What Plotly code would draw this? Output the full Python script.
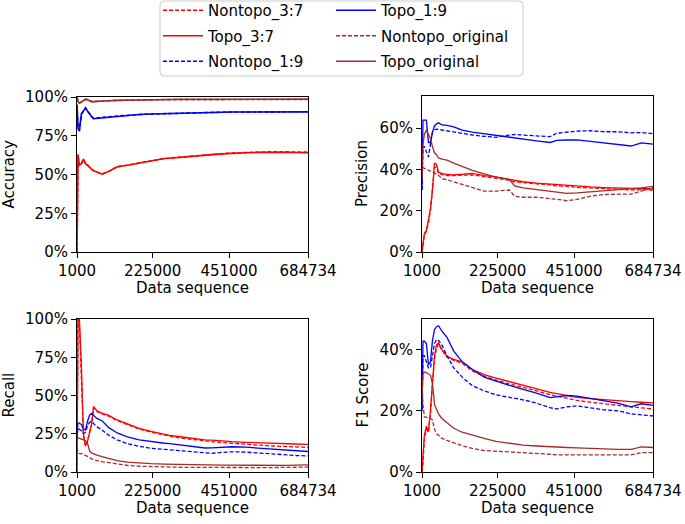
import plotly.graph_objects as go

# ---------------- data ----------------
X = [1000, 4000, 8000, 14000, 20000, 26000, 32000, 38000, 44000, 50000, 60000, 75000,
     95000, 120000, 150000, 185000, 220000, 260000, 275000, 300000, 340000, 380000,
     400000, 430000, 460000, 500000, 540000, 580000, 620000, 650000, 684734]

x_ticks = [1000, 225000, 451000, 684734]
x_tick_labels = ["1000", "225000", "451000", "684734"]

series_names = ["Nontopo_3:7", "Topo_3:7", "Nontopo_1:9", "Topo_1:9", "Nontopo_original", "Topo_original"]

# Accuracy (%)
acc_nontopo37 = [0, 62, 56, 57, 60, 57, 56, 54.5, 53.5, 52.5, 51.5, 50.3, 52, 55, 56, 57.5, 59, 60.3, 60.6, 61.1,
                 62, 62.6, 62.9, 63.4, 63.9, 64.2, 64.5, 64.7, 64.6, 64.5, 64.4]
acc_topo37 = [0, 63, 56, 57, 60, 57, 56, 54.5, 53.5, 52.5, 51.5, 50.2, 52, 55, 56, 57.5, 59, 60.3, 60.5, 61,
              62, 62.5, 62.8, 63.3, 63.8, 64, 64.3, 64.5, 64.3, 64.2, 64]
acc_nontopo19 = [95, 80, 78.5, 89, 91, 93, 91, 89, 87.5, 86.2, 86.3, 86.8, 87.3, 87.8, 88.2, 88.7, 89, 89.3, 89.5, 89.6,
                 89.8, 90, 90.1, 90.2, 90.3, 90.4, 90.5, 90.5, 90.5, 90.5, 90.5]
acc_topo19 = [95, 80, 78, 89, 91, 93, 91, 89, 87.5, 86, 86.2, 86.8, 87.3, 87.8, 88.2, 88.7, 89, 89.3, 89.5, 89.6,
              89.8, 90, 90.1, 90.2, 90.3, 90.4, 90.5, 90.5, 90.5, 90.5, 90.4]
acc_nontopo_orig = [100, 97, 96, 96.8, 97.8, 98.5, 98.3, 97.5, 97, 97, 97.2, 97.4, 97.6, 97.8, 98, 98.1, 98.2, 98.3, 98.3, 98.3,
                    98.4, 98.4, 98.4, 98.4, 98.4, 98.4, 98.4, 98.4, 98.4, 98.4, 98.4]
acc_topo_orig = [100, 97, 96, 96.8, 97.8, 98.5, 98.3, 97.5, 97, 97, 97.2, 97.4, 97.6, 97.8, 98, 98.1, 98.2, 98.3, 98.4, 98.5,
                 98.5, 98.5, 98.5, 98.6, 98.6, 98.6, 98.6, 98.6, 98.6, 98.6, 98.6]

# Precision (%)
prec_nontopo37 = [0, 3, 8, 10, 14, 20, 29, 41, 41, 38, 37.5, 37, 37, 37.2, 37.3, 36.5, 35.8, 34.7, 34, 33.5,
                  33, 32.5, 32, 31.8, 31.3, 31, 30.7, 30.3, 30, 30.2, 30]
prec_topo37 = [0, 4, 9, 10.5, 15, 21, 30, 43, 42.5, 38.5, 38, 37.5, 37.3, 37.5, 38, 37, 36.4, 35.2, 34.7, 34,
               33.3, 32.8, 32.6, 32.2, 31.8, 31.5, 31.2, 31, 30.8, 30.5, 30.5]
prec_nontopo19 = [30, 51, 51, 48, 46, 52, 58, 59, 59.5, 59.3, 59, 58.5, 58.2, 57.2, 56.6, 56, 55.5, 56.6, 56.9, 56.6,
                  56.2, 55.8, 57.5, 58, 58.5, 58.7, 58.2, 58.2, 57.7, 57.8, 57.3]
prec_topo19 = [30, 63.8, 63.8, 63.8, 53, 53, 58, 61, 62, 62.5, 61.5, 61.3, 60.5, 59, 58, 57.2, 56.2, 55.5, 55, 54.5,
               53.8, 53, 54, 54.2, 54.3, 53.5, 52.8, 52, 51.3, 52.8, 52.2]
prec_nontopo_orig = [41, 41, 40.5, 40, 39.5, 39, 38.5, 38.2, 38, 37, 35.5, 35, 34, 32.5, 31, 29.5, 29.5, 30, 27, 26.5,
                     26.5, 26, 25.5, 24.8, 25.5, 27, 27.8, 28, 28, 29.5, 31.3]
prec_topo_orig = [35, 52, 57, 59, 57, 55, 51, 48, 47, 45.5, 45, 44.5, 43, 41.5, 39.5, 37.8, 36.2, 35, 32, 31,
                  30.2, 29.5, 29, 28.4, 28.6, 29.1, 29.5, 30, 30.3, 31, 31.8]

# Recall (%)
rec_nontopo37 = [0, 100, 98, 65, 24, 17, 20, 26, 31, 42, 39.5, 38, 36.5, 33.5, 31, 28, 26, 24, 23.5, 22.5,
                 21.2, 20.3, 19.8, 19.2, 18.7, 18, 17.5, 17, 16.6, 16.2, 16]
rec_topo37 = [0, 100, 100, 70, 25, 17, 20, 26, 31, 42.8, 40, 38.5, 37, 34, 31.5, 28.5, 26.5, 24.5, 24, 23.2,
              22, 21, 20.8, 20.2, 19.8, 19.4, 19, 18.7, 18.5, 18.3, 18.1]
rec_nontopo19 = [22, 29, 28, 27, 25, 26, 30, 32.5, 33, 31.5, 29.5, 27.5, 24, 21, 18.5, 16.8, 15.5, 14.8, 14.5, 14,
                 13.2, 12.4, 12.2, 12.8, 13.2, 13, 12.3, 11.8, 11.2, 10.8, 10.5]
rec_topo19 = [25, 32, 32, 31, 28, 27.5, 33, 37, 38.3, 37, 35, 33.5, 29, 25.5, 23, 21, 19.8, 18.8, 18.5, 17.8,
              16.8, 15.7, 15.8, 16.3, 16.5, 16.2, 15.5, 14.9, 14.3, 13.8, 13.4]
rec_nontopo_orig = [16, 13, 12, 12, 11.5, 11, 10.5, 9.5, 8.5, 8, 7.5, 6.8, 6, 5, 4.3, 3.8, 3.5, 3.3, 3.2, 3.1,
                    3, 2.9, 2.8, 2.8, 2.8, 2.8, 2.9, 2.9, 2.9, 3.1, 3.2]
rec_topo_orig = [23, 22.5, 22, 21.5, 21, 20.5, 19, 14, 12.5, 11.8, 11, 10, 8.8, 7.5, 6.5, 5.8, 5.5, 5.2, 5.1, 5,
                 4.8, 4.7, 4.6, 4.5, 4.5, 4.4, 4.4, 4.3, 4.3, 4.5, 4.6]

# F1 Score (%)
f1_nontopo37 = [0, 3, 11, 14, 13, 19, 29, 37, 40.5, 41.8, 39.8, 37.5, 36.5, 35.5, 33, 31.3, 30, 28.8, 28.3, 27.5,
                26.3, 25.3, 24.8, 24, 23.4, 22.8, 22.2, 21.8, 21.3, 21, 20.6]
f1_topo37 = [0, 4, 12, 15, 13.2, 20, 30, 38, 41.5, 42.2, 40, 37.8, 36.8, 36, 33.5, 31.8, 30.7, 29.5, 29, 28.3,
             27, 26, 25.6, 25, 24.4, 24, 23.6, 23.3, 23, 22.8, 22.6]
f1_nontopo19 = [20, 38, 38, 36, 34, 34, 38, 42, 43.3, 43, 41.5, 38, 34, 31, 28.2, 26.5, 25.2, 24.5, 24, 23.6,
                22.5, 21, 20.6, 21.3, 21.6, 21, 20.3, 20, 19, 18.7, 18.3]
f1_topo19 = [20, 42.8, 42.8, 42, 35, 36, 43, 46.5, 47.5, 47.8, 46, 44, 39.5, 36, 33.5, 31, 29.7, 28.2, 27.8, 27,
             25.8, 24.3, 24.5, 25, 24.8, 24, 23.2, 22.5, 21.3, 22.3, 21.8]
f1_nontopo_orig = [30, 22, 18, 18, 17.8, 17.5, 17, 14, 12.5, 12, 11, 10.3, 9.5, 8.6, 7.7, 7, 6.8, 6.6, 6.5, 6.3,
                   6, 5.8, 5.6, 5.6, 5.6, 5.6, 5.6, 5.6, 5.6, 6.3, 6.3]
f1_topo_orig = [25, 32, 32.7, 32.5, 32, 31.6, 29, 22, 20.5, 19, 17.5, 16, 14.3, 13, 12, 11, 10, 9.4, 9, 8.8,
                8.5, 8.2, 8.1, 8, 7.9, 7.7, 7.5, 7.4, 7.4, 8.2, 8]

metrics = [
    ("Accuracy", [acc_nontopo37, acc_topo37, acc_nontopo19, acc_topo19, acc_nontopo_orig, acc_topo_orig],
     [0, 100], [0, 25, 50, 75, 100]),
    ("Precision", [prec_nontopo37, prec_topo37, prec_nontopo19, prec_topo19, prec_nontopo_orig, prec_topo_orig],
     [0, 75.5], [0, 20, 40, 60]),
    ("Recall", [rec_nontopo37, rec_topo37, rec_nontopo19, rec_topo19, rec_nontopo_orig, rec_topo_orig],
     [0, 100], [0, 25, 50, 75, 100]),
    ("F1 Score", [f1_nontopo37, f1_topo37, f1_nontopo19, f1_topo19, f1_nontopo_orig, f1_topo_orig],
     [0, 50], [0, 20, 40]),
]

# ---------------- styling ----------------
W, H = 685, 524
colors = ["#ff0000", "#ff0000", "#0000ff", "#0000ff", "#a52a2a", "#a52a2a"]
dashes = ["4px,2px", "solid", "4px,2px", "solid", "4px,2px", "solid"]
legend_ids = ["legend", "legend", "legend", "legend2", "legend2", "legend2"]
FONT = "DejaVu Sans"
FS = 15

# pixel boxes (left, top, right, bottom) per subplot
boxes = [(77, 97, 308, 252), (422, 96, 653, 252), (77, 319, 308, 472), (422, 319, 653, 472)]

fig = go.Figure()
layout = {}
annotations = []
for i, (name, ys, yr, yt) in enumerate(metrics):
    k = "" if i == 0 else str(i + 1)
    l, t, r, b = boxes[i]
    lw = 1.6 if i == 0 else 1.3
    for j in range(6):
        fig.add_trace(go.Scatter(
            x=X, y=ys[j], mode="lines", name=series_names[j],
            line=dict(color=colors[j], width=lw, dash=dashes[j]),
            xaxis="x" + k, yaxis="y" + k,
            showlegend=(i == 0), legend=legend_ids[j], legendgroup=series_names[j],
        ))
    axcommon = dict(showline=True, mirror=True, linecolor="black", linewidth=1.1,
                    ticks="outside", ticklen=5, tickwidth=1.1, tickcolor="black",
                    showgrid=False, zeroline=False, automargin=False,
                    tickfont=dict(family=FONT, size=FS, color="black"))
    layout["xaxis" + k] = dict(domain=[l / W, r / W], anchor="y" + k,
                               range=[1000, 684734], tickvals=x_ticks, ticktext=x_tick_labels,
                               **axcommon)
    layout["yaxis" + k] = dict(domain=[1 - b / H, 1 - t / H], anchor="x" + k,
                               range=yr, tickvals=yt, ticktext=[f"{v}%" for v in yt],
                               **axcommon)
    # axis titles
    annotations.append(dict(text="Data sequence", x=(l + r) / 2 / W, y=1 - (b + 36) / H,
                            xref="paper", yref="paper", xanchor="center", yanchor="middle",
                            showarrow=False, font=dict(family=FONT, size=FS, color="black")))
    tx = 8 if i in (0, 2) else 362
    annotations.append(dict(text=name, x=tx / W, y=1 - (t + b) / 2 / H,
                            xref="paper", yref="paper", xanchor="center", yanchor="middle",
                            textangle=-90, showarrow=False,
                            font=dict(family=FONT, size=FS, color="black")))

# legend frame (rounded rectangle)
x0, y0, x1, y1, rr = 160, 1, 523, 76, 4
def px(xv):
    return xv / W
def py(yv):
    return 1 - yv / H
path = (f"M {px(x0 + rr)} {py(y0)} L {px(x1 - rr)} {py(y0)} Q {px(x1)} {py(y0)} {px(x1)} {py(y0 + rr)} "
        f"L {px(x1)} {py(y1 - rr)} Q {px(x1)} {py(y1)} {px(x1 - rr)} {py(y1)} "
        f"L {px(x0 + rr)} {py(y1)} Q {px(x0)} {py(y1)} {px(x0)} {py(y1 - rr)} "
        f"L {px(x0)} {py(y0 + rr)} Q {px(x0)} {py(y0)} {px(x0 + rr)} {py(y0)} Z")

legend_common = dict(bgcolor="rgba(0,0,0,0)", borderwidth=0, font=dict(family=FONT, size=FS, color="black"),
                     orientation="v", xanchor="left", yanchor="top", tracegroupgap=3,
                     itemwidth=40)

fig.update_layout(
    template="none",
    width=W, height=H,
    margin=dict(l=0, r=0, t=0, b=0, autoexpand=False),
    paper_bgcolor="white", plot_bgcolor="white",
    font=dict(family=FONT, size=FS, color="black"),
    annotations=annotations,
    shapes=[dict(type="path", path=path, xref="paper", yref="paper",
                 line=dict(color="#cccccc", width=1), fillcolor="rgba(255,255,255,0.8)", layer="below")],
    legend=dict(x=158 / W, y=1 + 6 / H, **legend_common),
    legend2=dict(x=331 / W, y=1 + 6 / H, **legend_common),
    **layout,
)

fig.write_html("out.html", config={"displayModeBar": False},
               post_script="document.body.style.margin='0';")
